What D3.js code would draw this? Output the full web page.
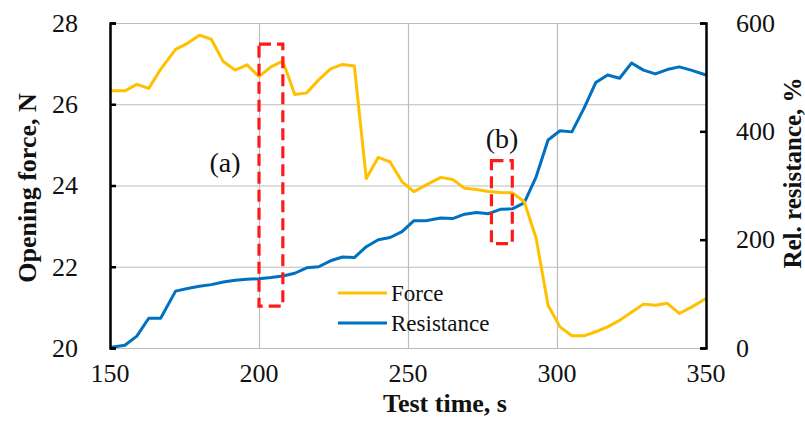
<!DOCTYPE html>
<html>
<head>
<meta charset="utf-8">
<script src="https://cdn.jsdelivr.net/npm/d3@7"></script>
<style>
  body { margin: 0; background: #fff; }
  svg text { font-family: "Liberation Serif", "Times New Roman", serif; fill: #111; }
  .axis text { font-size: 26px; }
  .grid line { stroke: #bdbdbd; stroke-width: 1.2px; }
  .grid path { display: none; }
</style>
</head>
<body>
<svg width="805" height="428"></svg>
<script>
// test time, s
var times = [150,155,159,163,167,172,176,180,184,188,192,196,200,204,208,212,216,220,224,228,
             232,236,240,244,248,252,256,261,265,269,273,277,281,285,289,293,297,301,305,309,
             313,317,321,325,329,333,337,341,345,350];
// opening force, N
var force = [26.33,26.33,26.49,26.39,26.86,27.35,27.50,27.70,27.60,27.05,26.84,26.97,26.68,26.92,27.06,26.24,26.28,26.60,26.87,26.98,
             26.94,24.17,24.69,24.58,24.09,23.85,24.01,24.20,24.15,23.93,23.90,23.85,23.83,23.82,23.60,22.70,21.05,20.52,20.30,20.30,
             20.40,20.52,20.68,20.88,21.08,21.05,21.10,20.85,21.00,21.22];
// relative resistance, %
var resistance = [1,5,22,55,55,105,110,114,117,122,125,127,128,130,133,138,148,150,161,168,
                  167,187,200,204,215,235,235,240,239,247,250,248,256,257,268,316,384,401,399,442,
                  490,504,498,526,513,506,514,519,513,504];

var xTicks = [150,200,250,300,350];
var forceTicks = [20,22,24,26,28];
var resTicks = [0,200,400,600];

// marked windows (a) and (b): [t0, t1, N low, N high]
var boxes = [
  {label: "(a)", t0: 200, t1: 208, lo: 21.03, hi: 27.48, lx: 225, ly: 162},
  {label: "(b)", t0: 278, t1: 285, lo: 22.57, hi: 24.61, lx: 502, ly: 138}
];

var svg = d3.select("svg");
var plotL = 110, plotR = 706, plotT = 23, plotB = 348;

var x = d3.scaleLinear().domain([150, 350]).range([plotL, plotR]);
var yF = d3.scaleLinear().domain([20, 28]).range([plotB, plotT]);
var yR = d3.scaleLinear().domain([0, 600]).range([plotB, plotT]);

// gridlines
svg.append("g").attr("class", "grid")
  .attr("transform", "translate(" + plotL + ",0)")
  .call(d3.axisLeft(yF).tickValues(forceTicks).tickSize(-(plotR - plotL)).tickFormat(""));
svg.append("g").attr("class", "grid")
  .attr("transform", "translate(0," + plotB + ")")
  .call(d3.axisBottom(x).tickValues(xTicks).tickSize(-(plotB - plotT)).tickFormat(""));

// x labels (no axis line of its own, the gridline serves)
svg.append("g").attr("class", "axis")
  .selectAll("text").data(xTicks).enter().append("text")
  .attr("x", d => x(d)).attr("y", plotB + 34)
  .attr("text-anchor", "middle").text(d => d);

var lineF = d3.line().x((d, i) => x(times[i])).y(d => yF(d));
var lineR = d3.line().x((d, i) => x(times[i])).y(d => yR(d));

svg.append("path").datum(resistance).attr("d", lineR)
  .attr("fill", "none").attr("stroke", "#0070c0").attr("stroke-width", 3).attr("stroke-linejoin", "round");
svg.append("path").datum(force).attr("d", lineF)
  .attr("fill", "none").attr("stroke", "#ffc000").attr("stroke-width", 3).attr("stroke-linejoin", "round");

// dashed boxes
boxes.forEach(function(b) {
  svg.append("rect")
    .attr("x", x(b.t0)).attr("y", yF(b.hi))
    .attr("width", x(b.t1) - x(b.t0)).attr("height", yF(b.lo) - yF(b.hi))
    .attr("fill", "none").attr("stroke", "#ff1a1a").attr("stroke-width", 3.2)
    .attr("stroke-dasharray", "12,6");
  svg.append("text").attr("x", b.lx).attr("y", b.ly).attr("dy", "0.35em")
    .attr("text-anchor", "middle").style("font-size", "28px").text(b.label);
});

// left and right axes, ticks pointing inward
var axL = svg.append("g").attr("class", "axis")
  .attr("transform", "translate(" + plotL + ",0)")
  .call(d3.axisLeft(yF).tickValues(forceTicks).tickSize(-6).tickPadding(32));
var axR = svg.append("g").attr("class", "axis")
  .attr("transform", "translate(" + plotR + ",0)")
  .call(d3.axisRight(yR).tickValues(resTicks).tickSize(-6).tickPadding(30));
[axL, axR].forEach(function(a) {
  a.selectAll("path, line").attr("stroke", "#000").attr("stroke-width", 2.5);
});

// axis titles
svg.append("text").attr("transform", "translate(27,188) rotate(-90)")
  .attr("text-anchor", "middle").attr("dy", "0.35em")
  .style("font-size", "26px").style("font-weight", "bold").text("Opening force, N");
svg.append("text").attr("transform", "translate(792,173) rotate(-90)")
  .attr("text-anchor", "middle").attr("dy", "0.35em")
  .style("font-size", "25px").style("font-weight", "bold").text("Rel. resistance, %");
svg.append("text").attr("x", 445).attr("y", 412)
  .attr("text-anchor", "middle")
  .style("font-size", "26px").style("font-weight", "bold").text("Test time, s");

// legend
var legend = [{name: "Force", color: "#ffc000"}, {name: "Resistance", color: "#0070c0"}];
var lg = svg.append("g").selectAll("g").data(legend).enter().append("g")
  .attr("transform", (d, i) => "translate(338," + (293 + i * 30) + ")");
lg.append("line").attr("x1", 0).attr("x2", 49)
  .attr("stroke", d => d.color).attr("stroke-width", 3);
lg.append("text").attr("x", 53).attr("dy", "0.35em")
  .style("font-size", "23px").text(d => d.name);
</script>
</body>
</html>
